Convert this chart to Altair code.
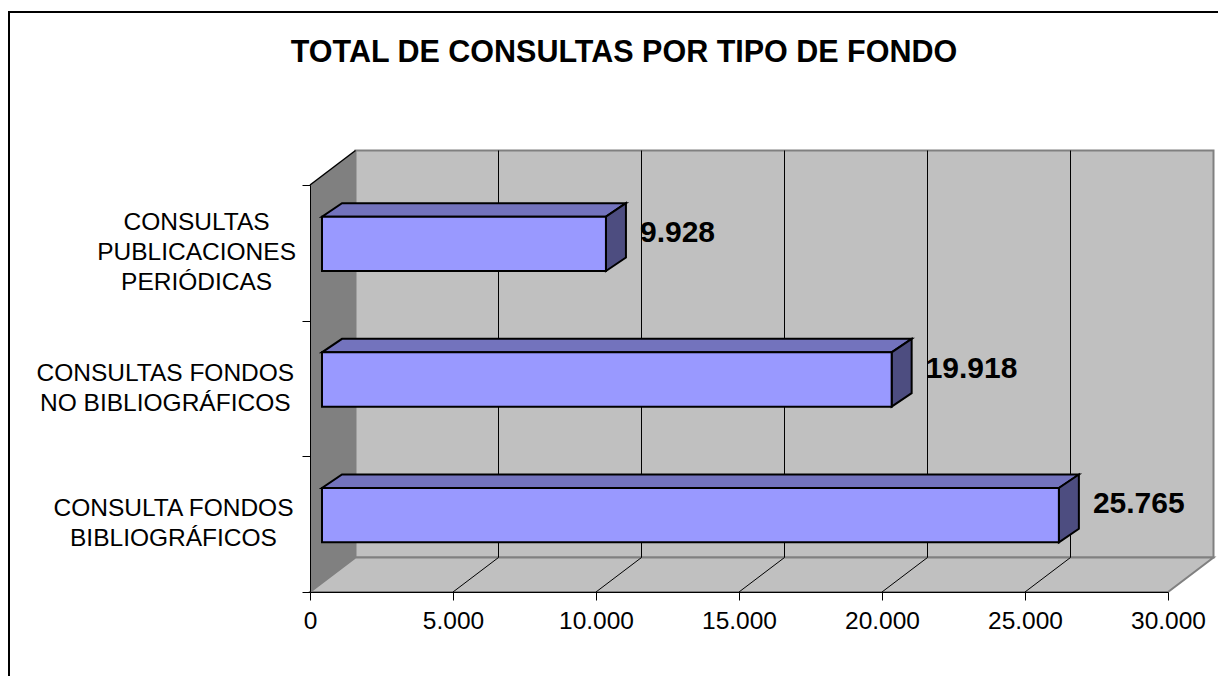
import altair as alt
import pandas as pd

# ---------------- data ----------------
categories = [
    "CONSULTAS\nPUBLICACIONES\nPERIÓDICAS",
    "CONSULTAS FONDOS\nNO BIBLIOGRÁFICOS",
    "CONSULTA FONDOS\nBIBLIOGRÁFICOS",
]
values = [9928, 19918, 25765]
x_ticks = [0, 5000, 10000, 15000, 20000, 25000, 30000]
chart_title = "TOTAL DE CONSULTAS POR TIPO DE FONDO"

# ---------------- geometry / style ----------------
W, H = 858, 407
X_MAX = x_ticks[-1]
N = len(categories)
UX = X_MAX / W          # data units per pixel (x)
UY = N / H              # data units per pixel (y)
WALL_DX, WALL_DY = 45.5, 34.5
BAR_FRONT = (12, 9)
BAR_BACK = (32, 22.5)
BAR_THICK = 0.4
FONT = "Liberation Sans, Arial, sans-serif"
LBL_SIZE = 24.5
LBL_LINE = 30

FRONT_COL = "#9999FF"
TOP_COL = "#7373BD"
SIDE_COL = "#4D4D80"
WALL_COL = "#C0C0C0"
SIDEWALL_COL = "#808080"
EDGE_COL = "#808080"

# Arial / Liberation Sans advance widths (per 1000 em) for label layout
AW = {"A": 667, "B": 667, "C": 722, "D": 722, "E": 667, "F": 611, "G": 778,
      "H": 722, "I": 278, "L": 556, "N": 722, "O": 778, "P": 667, "R": 722,
      "S": 667, "T": 611, "U": 722, " ": 278, "Á": 667, "Ó": 778}


def text_w(s, fs):
    return sum(AW.get(c, 667) for c in s) / 1000 * fs


xs = alt.Scale(domain=[0, X_MAX], nice=False, zero=False)
ys = alt.Scale(domain=[0, N], nice=False, zero=False)

x_axis = alt.Axis(values=x_ticks,
                  labelExpr="replace(format(datum.value, ','), ',', '.')",
                  title=None, grid=False, domainColor="black", domainWidth=1,
                  tickColor="black", tickSize=8, tickWidth=1,
                  labelFont=FONT, labelFontSize=LBL_SIZE, labelColor="black",
                  labelPadding=9, labelFlush=False, labelOverlap=False, zindex=1)
y_axis = alt.Axis(values=list(range(N + 1)), labels=False, title=None,
                  grid=False, domainColor="black", domainWidth=1,
                  tickColor="black", tickSize=8, tickWidth=1, zindex=1)


def X(f):
    return alt.X(f, type="quantitative", scale=xs, axis=x_axis, stack=False)


def Y(f):
    return alt.Y(f, type="quantitative", scale=ys, axis=y_axis, stack=False)


# ---------------- derived tables ----------------
bar_rows, top_rows, side_rows, lab_rows = [], [], [], []
for i, (c, v) in enumerate(zip(categories, values)):
    yc = N - i - 0.5
    lo, hi = yc - BAR_THICK / 2, yc + BAR_THICK / 2
    bar_rows.append({"cat": c, "base": 0, "value": v, "lo": lo, "hi": hi,
                     "lx": v + 46 * UX, "ly": yc + 20 * UY})
    for (dx, dy) in (BAR_FRONT, BAR_BACK):
        top_rows.append({"cat": c, "y": hi + dy * UY, "x": v + dx * UX, "x2": dx * UX})
        side_rows.append({"cat": c, "x": v + dx * UX, "y": lo + dy * UY, "y2": hi + dy * UY})
    lines = c.split("\n")
    wmax = max(text_w(s, LBL_SIZE) for s in lines)
    lab_rows.append({"cat": c, "lines": lines, "x": (-14 - wmax / 2) * UX,
                     "y": yc + (len(lines) - 1) / 2 * LBL_LINE * UY})

bars = pd.DataFrame(bar_rows)
tops = pd.DataFrame(top_rows)
sides = pd.DataFrame(side_rows)

DXu, DYu = WALL_DX * UX, WALL_DY * UY
back_wall = pd.DataFrame([{"x": DXu, "x2": X_MAX + DXu, "y": DYu, "y2": N + DYu}])
floor = pd.DataFrame([{"y": 0, "x": 0, "x2": X_MAX},
                      {"y": DYu, "x": DXu, "x2": X_MAX + DXu}])
side_wall = pd.DataFrame([{"x": 0, "y": 0, "y2": N},
                          {"x": DXu, "y": DYu, "y2": N + DYu}])
side_edge = pd.DataFrame([{"x": 0, "x2": DXu, "y": N, "y2": N + DYu}])
grid_back = pd.DataFrame([{"x": t + DXu, "x2": t + DXu, "y": DYu, "y2": N + DYu}
                          for t in x_ticks[1:-1]])
grid_floor = pd.DataFrame([{"x": t, "x2": t + DXu, "y": 0, "y2": DYu}
                           for t in x_ticks[1:-1]])

# ---------------- layers ----------------
border = alt.Chart(pd.DataFrame({"k": [0]})).mark_rect(
    fillOpacity=0, stroke="black", strokeWidth=2
).encode(x=alt.value(-301), x2=alt.value(W + 120),
         y=alt.value(-173), y2=alt.value(H + 200))

wall_l = alt.Chart(back_wall).mark_rect(
    fill=WALL_COL, stroke=EDGE_COL, strokeWidth=2
).encode(x=X("x"), x2="x2", y=Y("y"), y2="y2")

floor_l = alt.Chart(floor).mark_area(
    orient="horizontal", fill=WALL_COL, stroke=EDGE_COL, strokeWidth=2
).encode(y=Y("y"), x=X("x"), x2="x2")

grid_l = alt.Chart(pd.concat([grid_back, grid_floor])).mark_rule(
    color="black", strokeWidth=1
).encode(x=X("x"), x2="x2", y=Y("y"), y2="y2")

sidewall_l = alt.Chart(side_wall).mark_area(
    orient="vertical", fill=SIDEWALL_COL
).encode(x=X("x"), y=Y("y"), y2="y2")

sideedge_l = alt.Chart(side_edge).mark_rule(
    color="black", strokeWidth=1.5
).encode(x=X("x"), x2="x2", y=Y("y"), y2="y2")

top_l = alt.Chart(tops).mark_area(
    orient="horizontal", fill=TOP_COL, stroke="black", strokeWidth=2,
    strokeJoin="miter"
).encode(y=Y("y"), x=X("x"), x2="x2", detail="cat:N")

side_l = alt.Chart(sides).mark_area(
    orient="vertical", fill=SIDE_COL, stroke="black", strokeWidth=2,
    strokeJoin="miter"
).encode(x=X("x"), y=Y("y"), y2="y2", detail="cat:N")

front_l = alt.Chart(bars).mark_rect(
    fill=FRONT_COL, stroke="black", strokeWidth=2,
    xOffset=BAR_FRONT[0], x2Offset=BAR_FRONT[0],
    yOffset=-BAR_FRONT[1], y2Offset=-BAR_FRONT[1]
).encode(x=X("base"), x2="value", y=Y("lo"), y2="hi")

cat_l = alt.Chart(alt.Data(values=lab_rows)).mark_text(
    font=FONT, fontSize=LBL_SIZE, color="black", align="center",
    baseline="middle", lineHeight=LBL_LINE
).encode(x=X("x"), y=Y("y"), text=alt.Text("lines:N"))

val_l = alt.Chart(bars).transform_calculate(
    lbl="replace(format(datum.value, ','), ',', '.')"
).mark_text(
    font=FONT, fontSize=30, fontWeight="bold", color="black",
    align="left", baseline="middle"
).encode(x=X("lx"), y=Y("ly"), text="lbl:N")

title_l = alt.Chart(pd.DataFrame({"t": [chart_title]})).mark_text(
    font=FONT, fontSize=30.5, fontWeight="bold", color="black",
    align="center", baseline="middle"
).encode(x=alt.value(314), y=alt.value(-132), text="t:N")

chart = alt.layer(
    border, wall_l, floor_l, grid_l, sidewall_l, sideedge_l,
    top_l, side_l, front_l, cat_l, val_l, title_l
).properties(
    width=W, height=H,
    autosize=alt.AutoSizeParams(type="none"),
    padding={"left": 302, "top": 177, "right": 50, "bottom": 84},
    background="white",
).configure_view(strokeWidth=0)

chart.save("out.html", embed_options={"renderer": "svg", "actions": False})
